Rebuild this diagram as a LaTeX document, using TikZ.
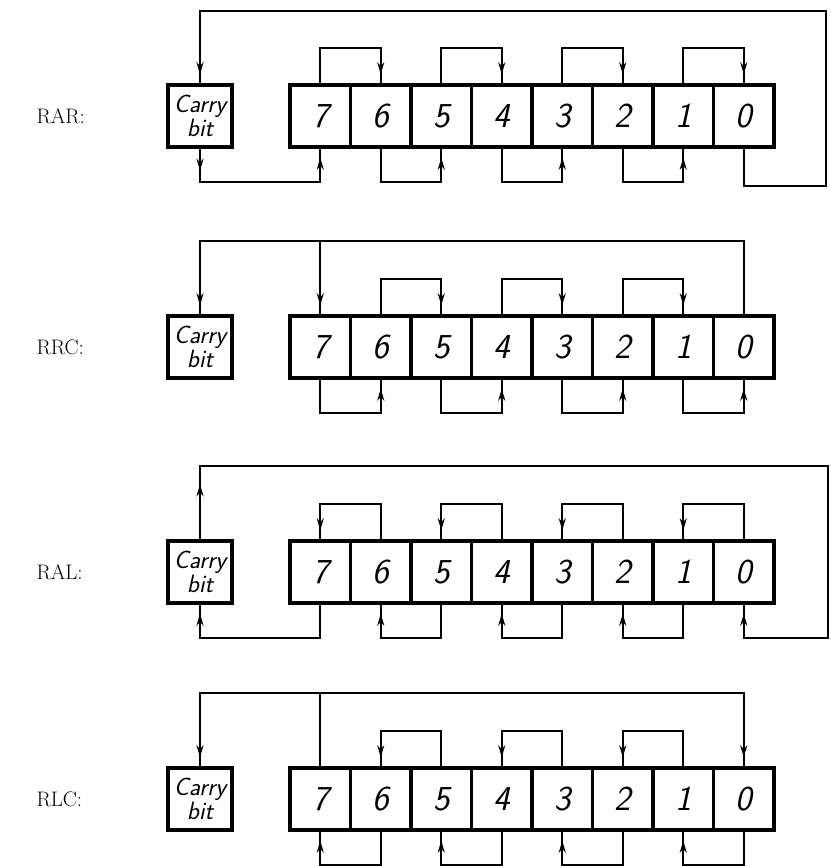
\documentclass[tikz,border=0pt]{standalone}
\usepackage{fontspec}
\usepackage{tikz}
\usetikzlibrary{arrows.meta,decorations.markings}

\begin{document}
\begin{tikzpicture}[
    x=1pt, y=1pt,
    flowtip/.tip={Stealth[length=12pt,width=7pt]},
    bitbox/.style={draw, line width=3.4pt, minimum width=60.5pt, minimum height=62pt,
                   inner sep=0pt, font=\fontsize{35}{37}\selectfont\sffamily\itshape},
    carrybox/.style={draw, line width=3.4pt, minimum width=64pt, minimum height=62pt,
                     inner sep=0pt, align=center,
                     font=\fontsize{25}{20}\selectfont\sffamily\itshape},
    regname/.style={anchor=west, font=\fontsize{21}{23}\selectfont},
    wire/.style={line width=2.3pt},
    feed/.style={wire, postaction={decorate},
                 decoration={markings, mark=at position -9pt with {\arrow{flowtip}}}},
    feedout/.style={wire, postaction={decorate},
                    decoration={markings, mark=at position #1 with {\arrow{flowtip}},
                                mark=at position -9pt with {\arrow{flowtip}}}},
]
\useasboundingbox (0,0) rectangle (830,866);

% ---- RAR ----
\node[regname] (rarL) at (33,750) {RAR:};
\node[carrybox] (rarC) at (200,750) {Carry\\bit};
\node[bitbox] (rar7) at (320.25,750) {7};
\node[bitbox] (rar6) at (380.75,750) {6};
\node[bitbox] (rar5) at (441.25,750) {5};
\node[bitbox] (rar4) at (501.75,750) {4};
\node[bitbox] (rar3) at (562.25,750) {3};
\node[bitbox] (rar2) at (622.75,750) {2};
\node[bitbox] (rar1) at (683.25,750) {1};
\node[bitbox] (rar0) at (743.75,750) {0};
\coordinate (rarR) at (826,855);

\draw[feed] (rar7.north) -- ++(0,35) -| (rar6.north);
\draw[feed] (rar5.north) -- ++(0,35) -| (rar4.north);
\draw[feed] (rar3.north) -- ++(0,35) -| (rar2.north);
\draw[feed] (rar1.north) -- ++(0,35) -| (rar0.north);
\draw[feed] (rar6.south) -- ++(0,-33) -| (rar5.south);
\draw[feed] (rar4.south) -- ++(0,-33) -| (rar3.south);
\draw[feed] (rar2.south) -- ++(0,-33) -| (rar1.south);
\draw[feed] (rar0.south) -- ++(0,-37) -| (rarR) -| (rarC.north);
\draw[feedout=22pt] (rarC.south) -- ++(0,-33) -| (rar7.south);

% ---- RRC ----
\node[regname] (rrcL) at (33,519) {RRC:};
\node[carrybox] (rrcC) at (200,519) {Carry\\bit};
\node[bitbox] (rrc7) at (320.25,519) {7};
\node[bitbox] (rrc6) at (380.75,519) {6};
\node[bitbox] (rrc5) at (441.25,519) {5};
\node[bitbox] (rrc4) at (501.75,519) {4};
\node[bitbox] (rrc3) at (562.25,519) {3};
\node[bitbox] (rrc2) at (622.75,519) {2};
\node[bitbox] (rrc1) at (683.25,519) {1};
\node[bitbox] (rrc0) at (743.75,519) {0};

\draw[feed] (rrc6.north) -- ++(0,35) -| (rrc5.north);
\draw[feed] (rrc4.north) -- ++(0,35) -| (rrc3.north);
\draw[feed] (rrc2.north) -- ++(0,35) -| (rrc1.north);
\draw[feed] (rrc7.south) -- ++(0,-33) -| (rrc6.south);
\draw[feed] (rrc5.south) -- ++(0,-33) -| (rrc4.south);
\draw[feed] (rrc3.south) -- ++(0,-33) -| (rrc2.south);
\draw[feed] (rrc1.south) -- ++(0,-33) -| (rrc0.south);
\draw[feed] (rrc0.north) -- ++(0,73) coordinate (rrcT) -| (rrcC.north);
\draw[feed] (rrc7.north |- rrcT) -- (rrc7.north);

% ---- RAL ----
\node[regname] (ralL) at (33,294) {RAL:};
\node[carrybox] (ralC) at (200,294) {Carry\\bit};
\node[bitbox] (ral7) at (320.25,294) {7};
\node[bitbox] (ral6) at (380.75,294) {6};
\node[bitbox] (ral5) at (441.25,294) {5};
\node[bitbox] (ral4) at (501.75,294) {4};
\node[bitbox] (ral3) at (562.25,294) {3};
\node[bitbox] (ral2) at (622.75,294) {2};
\node[bitbox] (ral1) at (683.25,294) {1};
\node[bitbox] (ral0) at (743.75,294) {0};
\coordinate (ralR) at (828,228);

\draw[feed] (ral6.north) -- ++(0,35) -| (ral7.north);
\draw[feed] (ral4.north) -- ++(0,35) -| (ral5.north);
\draw[feed] (ral2.north) -- ++(0,35) -| (ral3.north);
\draw[feed] (ral0.north) -- ++(0,35) -| (ral1.north);
\draw[feed] (ral5.south) -- ++(0,-33) -| (ral6.south);
\draw[feed] (ral3.south) -- ++(0,-33) -| (ral4.south);
\draw[feed] (ral1.south) -- ++(0,-33) -| (ral2.south);
\draw[feedout=55pt] (ralC.north) -- ++(0,73) -| (ralR) -| (ral0.south);
\draw[feed] (ral7.south) -- ++(0,-33) -| (ralC.south);

% ---- RLC ----
\node[regname] (rlcL) at (33,67) {RLC:};
\node[carrybox] (rlcC) at (200,67) {Carry\\bit};
\node[bitbox] (rlc7) at (320.25,67) {7};
\node[bitbox] (rlc6) at (380.75,67) {6};
\node[bitbox] (rlc5) at (441.25,67) {5};
\node[bitbox] (rlc4) at (501.75,67) {4};
\node[bitbox] (rlc3) at (562.25,67) {3};
\node[bitbox] (rlc2) at (622.75,67) {2};
\node[bitbox] (rlc1) at (683.25,67) {1};
\node[bitbox] (rlc0) at (743.75,67) {0};

\draw[feed] (rlc5.north) -- ++(0,35) -| (rlc6.north);
\draw[feed] (rlc3.north) -- ++(0,35) -| (rlc4.north);
\draw[feed] (rlc1.north) -- ++(0,35) -| (rlc2.north);
\draw[feed] (rlc6.south) -- ++(0,-33) -| (rlc7.south);
\draw[feed] (rlc4.south) -- ++(0,-33) -| (rlc5.south);
\draw[feed] (rlc2.south) -- ++(0,-33) -| (rlc3.south);
\draw[feed] (rlc0.south) -- ++(0,-33) -| (rlc1.south);
\draw[feed] (rlc7.north) -- ++(0,73) coordinate (rlcT) -| (rlcC.north);
\draw[feed] (rlc7.north |- rlcT) -| (rlc0.north);
\end{tikzpicture}
\end{document}
